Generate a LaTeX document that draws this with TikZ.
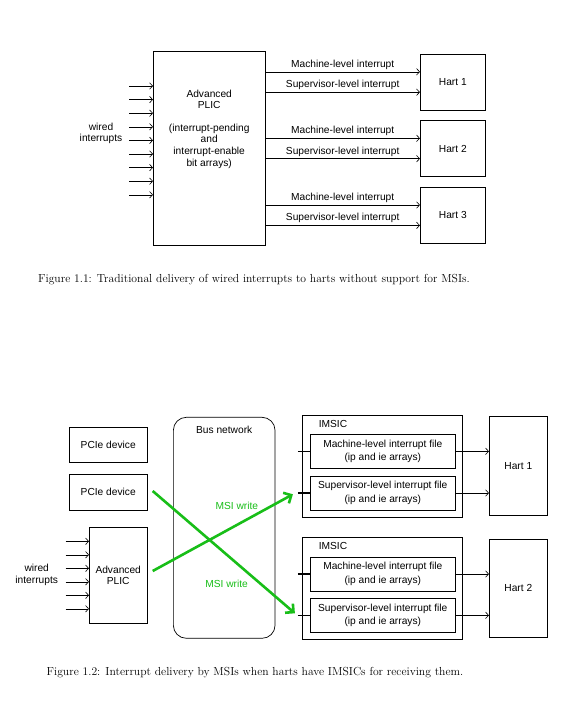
\documentclass[tikz,border=0pt]{standalone}
\usepackage{fontspec}
\usepackage{tikz}
\usetikzlibrary{shapes.geometric, arrows, arrows.meta, positioning}
\newfontfamily\diagfont{Liberation Sans}
\definecolor{msigreen}{RGB}{24,190,24}
\tikzstyle{box} = [rectangle, draw=black, line width=0.7pt, inner sep=0pt, align=center, text centered, font=\diagfont\fontsize{10.2}{11.6}\selectfont]
\tikzstyle{filebox} = [box, minimum width=144.3pt, minimum height=34pt]
\tikzstyle{plain} = [inner sep=0pt, align=center, font=\diagfont\fontsize{10.2}{11.6}\selectfont]
\tikzstyle{arrow} = [-{Straight Barb[length=3pt,width=6.5pt]}, line width=0.6pt]
\tikzstyle{stub} = [line width=1.6pt]
\tikzstyle{msi} = [-{Straight Barb[length=6pt,width=12pt]}, line width=2.6pt, draw=msigreen]
\tikzstyle{msilabel} = [plain, text=msigreen]
\tikzstyle{caption} = [inner sep=0pt, font=\fontsize{11.65}{13.5}\selectfont]
\begin{document}
\begin{tikzpicture}[x=1pt, y=-1pt]
    \useasboundingbox (0,0) rectangle (577,717);

    % Figure 1.1 - nodes
    \node (plic) [box, minimum width=111.7pt, minimum height=194pt] at (209.2,148.7) {};
    \node (plictext) [plain] at (209.2,129) {Advanced\\PLIC\\[11pt](interrupt-pending\\and\\interrupt-enable\\bit arrays)};
    \node (wired) [plain] at (101,133.3) {wired\\interrupts};
    \node (hart1) [box, minimum width=65pt, minimum height=56pt] at (452.8,82) {Hart 1};
    \node (hart2) [box, minimum width=65pt, minimum height=56pt] at (452.8,148.5) {Hart 2};
    \node (hart3) [box, minimum width=65pt, minimum height=56pt] at (452.8,215.2) {Hart 3};
    \node (cap1) [caption] at (254,279.3) {Figure 1.1: Traditional delivery of wired interrupts to harts without support for MSIs.};

    % Figure 1.1 - arrows
    \foreach \i in {0,...,8} {
        \coordinate (in\i) at (129,86+13.6*\i);
        \draw [arrow] (in\i) -- (in\i -| plic.west);
    }
    \foreach \h in {1,2,3} {
        \coordinate (mi\h) at ([yshift=10.2pt]hart\h.west);
        \coordinate (si\h) at ([yshift=-10.2pt]hart\h.west);
        \draw [arrow] (mi\h -| plic.east) -- node[plain, above=2pt] {Machine-level interrupt} (mi\h);
        \draw [arrow] (si\h -| plic.east) -- node[plain, above=2pt] {Supervisor-level interrupt} (si\h);
    }

    % Figure 1.2 - nodes
    \node (pcie1) [box, minimum width=77.7pt, minimum height=35.4pt] at (108.2,445) {PCIe device};
    \node (pcie2) [box, minimum width=77.7pt, minimum height=36pt] at (108.2,492) {PCIe device};
    \node (aplic) [box, minimum width=57.7pt, minimum height=95.6pt] at (118.2,575.5) {Advanced\\PLIC};
    \node (wired2) [plain] at (36.7,574.7) {wired\\interrupts};
    \node (bus) [box, rounded corners=13pt, minimum width=101.7pt, minimum height=221pt] at (224.2,527.8) {};
    \node (busname) [plain, below=9pt of bus.north] {Bus network};
    \node (imsic1) [box, minimum width=160.7pt, minimum height=102.3pt] at (382.3,466.2) {};
    \node (imsicname1) [plain, anchor=north west] at ([xshift=17pt,yshift=-5.6pt]imsic1.north west) {IMSIC};
    \node (mfile1) [filebox] at (382.8,451.3) {Machine-level interrupt file\\[2pt](ip and ie arrays)};
    \node (sfile1) [filebox] at (382.8,493) {Supervisor-level interrupt file\\[2pt](ip and ie arrays)};
    \node (imsic2) [box, minimum width=160.7pt, minimum height=102pt] at (382.3,588.3) {};
    \node (imsicname2) [plain, anchor=north west] at ([xshift=17pt,yshift=-5.6pt]imsic2.north west) {IMSIC};
    \node (mfile2) [filebox] at (382.8,574) {Machine-level interrupt file\\[2pt](ip and ie arrays)};
    \node (sfile2) [filebox] at (382.8,615.3) {Supervisor-level interrupt file\\[2pt](ip and ie arrays)};
    \node (hartb1) [box, minimum width=58pt, minimum height=98.6pt] at (518.3,466) {Hart 1};
    \node (hartb2) [box, minimum width=58pt, minimum height=98.6pt] at (518.3,588.3) {Hart 2};
    \node (cap2) [caption] at (255,672.7) {Figure 1.2: Interrupt delivery by MSIs when harts have IMSICs for receiving them.};

    % Figure 1.2 - arrows
    \foreach \i in {0,...,5} {
        \coordinate (win\i) at (65.7,541.3+13.5*\i);
        \draw [arrow] (win\i) -- (win\i -| aplic.west);
    }
    \foreach \f in {mfile1, sfile1} {
        \draw [arrow] (\f.east) -- (\f.east -| hartb1.west);
    }
    \foreach \f in {mfile2, sfile2} {
        \draw [arrow] (\f.east) -- (\f.east -| hartb2.west);
    }
    \foreach \f in {mfile1, sfile1, mfile2, sfile2} {
        \coordinate (\f stub) at ([xshift=-12.4pt]\f.west);
        \draw [stub] (\f stub) -- (\f.west);
    }
    \draw [msi] ([xshift=5.3pt,yshift=1pt]pcie2.east) -- node[msilabel, pos=0.52, yshift=-28.9pt] {MSI write} ([xshift=-3pt,yshift=2pt]sfile2stub);
    \draw [msi] ([xshift=5.3pt,yshift=4.5pt]aplic.east) -- node[msilabel, pos=0.6, yshift=19.4pt] {MSI write} ([xshift=-5pt,yshift=-1.3pt]sfile1stub);

\end{tikzpicture}
\end{document}
